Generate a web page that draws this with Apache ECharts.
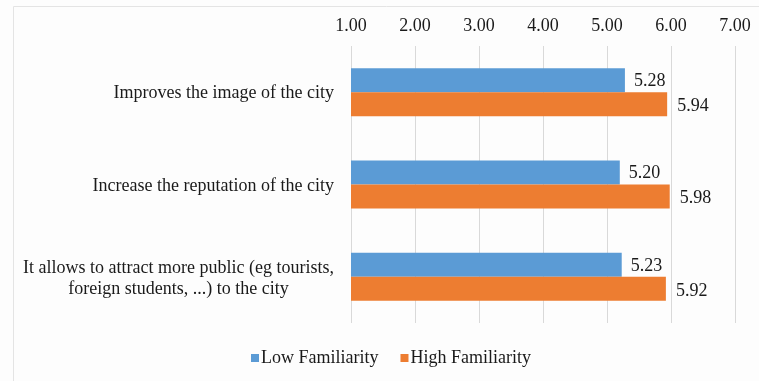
<!DOCTYPE html>
<html>
<head>
<meta charset="utf-8">
<script src="https://cdn.jsdelivr.net/npm/echarts@6/dist/echarts.min.js"></script>
<style>
  html, body { margin: 0; padding: 0; background: #fdfdfd; }
  #chart { width: 759px; height: 381px; }
</style>
</head>
<body>
<div id="chart"></div>
<script>
// Survey statements (top to bottom) and mean agreement scores per group
const categories = [
  'Improves the image of the city',
  'Increase the reputation of the city',
  'It allows to attract more public (eg tourists,\nforeign students, ...) to the city'
];
const lowFamiliarity = [5.28, 5.20, 5.23];
const highFamiliarity = [5.94, 5.98, 5.92];
const seriesNames = ['Low Familiarity', 'High Familiarity'];

const FONT = '"Liberation Serif", "Times New Roman", serif';
const SIZE = 18;
const INK = '#1a1a1a';

// Multi-line labels: lines centred within the block, block right-aligned at the axis
function categoryLabel(value) {
  return value.split('\n').map(l => '{c|' + l + '}').join('\n');
}

const chart = echarts.init(document.getElementById('chart'), null, { renderer: 'canvas' });

chart.setOption({
  backgroundColor: '#fdfdfd',
  animation: false,
  textStyle: { fontFamily: FONT },
  graphic: [{
    type: 'rect',
    left: 11, top: 4,
    shape: { width: 800, height: 400 },
    style: { fill: 'none', stroke: '#e4e4e4', lineWidth: 1 },
    silent: true,
    z: -1
  }],
  grid: { left: 351, top: 46, width: 384, height: 277, containLabel: false },
  legend: {
    bottom: 9,
    left: 246,
    itemWidth: 8,
    itemHeight: 8,
    itemGap: 22,
    icon: 'rect',
    textStyle: { fontFamily: FONT, fontSize: SIZE, color: INK, padding: [0, 0, 0, -3] },
    data: seriesNames
  },
  xAxis: {
    type: 'value',
    position: 'top',
    min: 1, max: 7, interval: 1,
    axisLine: { show: false },
    axisTick: { show: false },
    axisLabel: {
      margin: 11,
      fontFamily: FONT, fontSize: SIZE, color: INK,
      formatter: v => v.toFixed(2)
    },
    splitLine: { lineStyle: { color: '#d9d9d9', width: 1 } }
  },
  yAxis: {
    type: 'category',
    inverse: true,
    data: categories,
    axisLine: { show: false },
    axisTick: { show: false },
    axisLabel: {
      margin: 17,
      fontFamily: FONT, fontSize: SIZE, color: INK,
      lineHeight: 21,
      padding: [3, 0, 0, 0],
      formatter: categoryLabel,
      rich: { c: { align: 'center', fontFamily: FONT, fontSize: SIZE, color: INK, lineHeight: 21 } }
    }
  },
  series: [
    {
      name: seriesNames[0],
      type: 'bar',
      data: lowFamiliarity,
      barWidth: 24,
      barGap: '0%',
      itemStyle: { color: '#5b9bd5' },
      label: {
        show: true, position: 'right', distance: 9, offset: [0, 1],
        fontFamily: FONT, fontSize: SIZE, color: INK,
        formatter: p => p.value.toFixed(2)
      }
    },
    {
      name: seriesNames[1],
      type: 'bar',
      data: highFamiliarity,
      barWidth: 24,
      barGap: '0%',
      itemStyle: { color: '#ed7d31' },
      label: {
        show: true, position: 'right', distance: 10, offset: [0, 2],
        fontFamily: FONT, fontSize: SIZE, color: INK,
        formatter: p => p.value.toFixed(2)
      }
    }
  ]
});
</script>
</body>
</html>
